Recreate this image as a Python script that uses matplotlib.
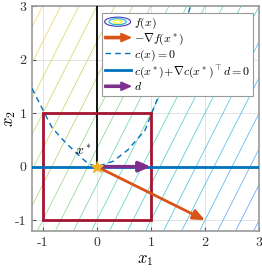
import matplotlib
matplotlib.use("Agg")
import matplotlib.pyplot as plt
import numpy as np
from matplotlib.colors import LinearSegmentedColormap, Normalize
from matplotlib.legend_handler import HandlerBase, HandlerPatch
from matplotlib.patches import Ellipse, FancyArrow, Rectangle
from matplotlib.lines import Line2D

plt.rcParams['mathtext.fontset'] = 'cm'

# linear objective f(x) = g . x, drawn as contour lines
grad_f = [-2.0, 1.0]
f_levels = [5 - 2 * k / 3 for k in range(19)]
# constraint curve c(x) = 0
c_x1 = [-1.2, -0.83, -0.59, -0.28, -0.15, 0.0, 0.3, 0.57, 0.89, 1.13, 1.42, 1.75]
c_x2 = [1.46, 0.73, 0.46, 0.16, 0.05, 0.0, 0.1, 0.31, 0.68, 1.29, 2.02, 3.05]
x_star = [0.0, 0.0]
step_d = [1.0, 0.0]
trust_radius = 1.0
ticks = [-1, 0, 1, 2, 3]

blue = '#0072BD'
orange = '#D95319'
gold = '#EDB120'
purple = '#7E2F8E'
darkred = '#A2142F'

parula = LinearSegmentedColormap.from_list('parula', [
    (0.2422, 0.1504, 0.6603), (0.2810, 0.3228, 0.9579), (0.1786, 0.5289, 0.9682),
    (0.0689, 0.6948, 0.8394), (0.2161, 0.7843, 0.5923), (0.6720, 0.7793, 0.2227),
    (0.9970, 0.7659, 0.2199), (0.9657, 0.8870, 0.1603), (0.9769, 0.9839, 0.0805)])


class ContourIcon:
    pass


class HandlerContour(HandlerBase):
    def create_artists(self, legend, orig_handle, xdescent, ydescent,
                       width, height, fontsize, trans):
        cx = width / 2 - xdescent
        cy = height / 2 - ydescent
        arts = []
        for s, c in zip([1.0, 0.66, 0.34], [parula(0.05), parula(0.4), parula(0.95)]):
            e = Ellipse((cx, cy), width * s, height * 1.1 * s, fill=False,
                        edgecolor=c, lw=0.8, transform=trans)
            arts.append(e)
        return arts


def arrow_icon(legend, orig_handle, xdescent, ydescent, width, height, fontsize):
    return FancyArrow(-xdescent, height / 2 - ydescent, width, 0,
                      width=1.6, head_width=6, head_length=7,
                      length_includes_head=True, color=orig_handle.get_facecolor())


fig = plt.figure(figsize=(2.62, 2.72), dpi=100)
ax = fig.add_axes([0.122, 0.151, 0.867, 0.827])

g1 = np.linspace(-1.2, 3, 60)
X1, X2 = np.meshgrid(g1, g1)
F = grad_f[0] * X1 + grad_f[1] * X2
ax.contour(X1, X2, F, levels=sorted(f_levels), cmap=parula,
           norm=Normalize(vmin=-12, vmax=10.7), linewidths=0.55, alpha=0.75, zorder=1)

ax.plot([x_star[0], x_star[0]], [x_star[1], 3], color='black', lw=1.3, zorder=3)
ax.plot(c_x1, c_x2, color=blue, ls=(0, (4, 3)), lw=1.0, zorder=3)
ax.add_patch(Rectangle((x_star[0] - trust_radius, x_star[1] - trust_radius),
                       2 * trust_radius, 2 * trust_radius, fill=False,
                       edgecolor=darkred, lw=2.0, zorder=4))
ax.axhline(x_star[1], color=blue, lw=2.0, zorder=5)
ax.annotate('', xy=(x_star[0] - grad_f[0], x_star[1] - grad_f[1]), xytext=x_star,
            arrowprops=dict(arrowstyle='-|>,head_length=0.7,head_width=0.3',
                            color=orange, lw=2.0, shrinkA=0, shrinkB=0), zorder=6)
ax.annotate('', xy=(x_star[0] + step_d[0], x_star[1] + step_d[1]), xytext=x_star,
            arrowprops=dict(arrowstyle='-|>,head_length=0.7,head_width=0.3',
                            color=purple, lw=2.5, shrinkA=0, shrinkB=0), zorder=7)
ax.plot(x_star[0], x_star[1], marker='*', color=gold, ms=9, zorder=8)
ax.text(-0.25, 0.3, r'$x^*$', fontsize=10, ha='center', va='center', zorder=8)

ax.set_xlim(-1.2, 3)
ax.set_ylim(-1.2, 3)
ax.set_xticks(ticks)
ax.set_yticks(ticks)
ax.set_xticklabels([str(t) for t in ticks], fontname='cmr10', fontsize=10)
ax.set_yticklabels([str(t) for t in ticks], fontname='cmr10', fontsize=10)
ax.tick_params(direction='in', length=3, color='#555555', labelcolor='#333333', pad=4)
ax.grid(True, color='#e4e4e4', lw=0.7)
ax.set_axisbelow(True)
for s in ax.spines.values():
    s.set_color('#9a9a9a')
    s.set_linewidth(1.2)
ax.set_xlabel(r'$x_1$', fontsize=12, labelpad=1)
ax.set_ylabel(r'$x_2$', fontsize=12)
ax.yaxis.set_label_coords(-0.06, 0.5)

handles = [ContourIcon(),
           FancyArrow(0, 0, 1, 0, color=orange),
           Line2D([], [], color=blue, ls=(0, (4, 3)), lw=1.0),
           Line2D([], [], color=blue, lw=2.0),
           FancyArrow(0, 0, 1, 0, color=purple)]
labels = [r'$f(x)$', r'$-\nabla f(x^*)$', r'$c(x) = 0$',
          r'$c(x^*)\!+\!\nabla c(x^*)^\top d = 0$', r'$d$']
leg = ax.legend(handles, labels, loc='upper right', bbox_to_anchor=(0.972, 0.97),
                fontsize=8.5, handlelength=2.2, handletextpad=0.25, labelspacing=0.05,
                borderpad=0.25, borderaxespad=0, fancybox=False, framealpha=1,
                edgecolor='#9a9a9a',
                handler_map={ContourIcon: HandlerContour(),
                             FancyArrow: HandlerPatch(patch_func=arrow_icon)})
leg.get_frame().set_linewidth(0.8)
leg.set_zorder(10)

fig.savefig('out.png', dpi=100)
